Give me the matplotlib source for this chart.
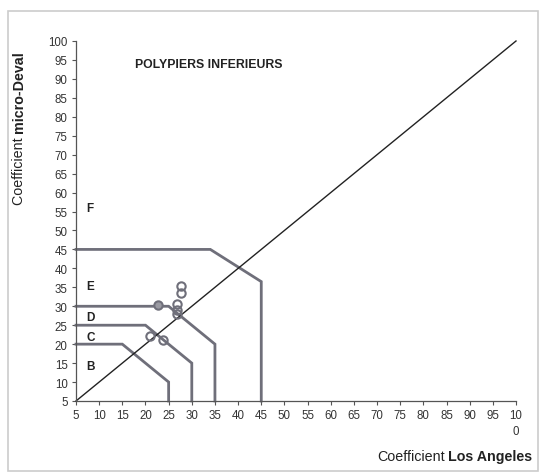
import matplotlib
matplotlib.use('Agg')
import matplotlib.pyplot as plt
from matplotlib.patches import Rectangle

plt.rcParams['font.family'] = ['Liberation Sans', 'DejaVu Sans']

# limites des classes (Los Angeles, micro-Deval)
lim_BC_x = [5, 15, 25, 25]
lim_BC_y = [20, 20, 10, 5]
lim_CD_x = [5, 20, 30, 30]
lim_CD_y = [25, 25, 15, 5]
lim_DE_x = [5, 25, 35, 35]
lim_DE_y = [30, 30, 20, 5]
lim_EF_x = [5, 34, 45, 45]
lim_EF_y = [45, 45, 36.5, 5]

# echantillons
la_vals = [21, 23.7, 22.8, 26.7, 26.7, 26.7, 27.6, 27.6]
md_vals = [22.2, 21.1, 30.3, 30.5, 29.0, 28.0, 33.6, 35.3]
pleins = [False, False, True, False, False, False, False, False]

classes = ['B', 'C', 'D', 'E', 'F']
classes_y = [14.2, 21.9, 27.2, 35.3, 55.9]

ticks = list(range(5, 101, 5))
xlabels = [str(t) for t in ticks[:-1]] + ['10\n0']

fig = plt.figure(figsize=(5.45, 4.77), dpi=100)
fig.patches.append(Rectangle((8/545, 1-472/477), 530/545, 460/477, transform=fig.transFigure,
                             fill=False, edgecolor='#cccccc', linewidth=1.2))
ax = fig.add_axes([76/545, 1-402/477, 440/545, 360/477])

gris = '#6f6f7a'
for xs, ys in [(lim_BC_x, lim_BC_y), (lim_CD_x, lim_CD_y), (lim_DE_x, lim_DE_y), (lim_EF_x, lim_EF_y)]:
    ax.plot(xs, ys, color=gris, lw=2, solid_joinstyle='miter', clip_on=False)

ax.plot([5, 100], [5, 100], color='#222222', lw=1, clip_on=False)

for x, y, p in zip(la_vals, md_vals, pleins):
    ax.plot(x, y, 'o', ms=6, mfc='#9a9aa2' if p else 'none', mec='#6f6f7a', mew=1.5)

for c, y in zip(classes, classes_y):
    ax.text(7.3, y, c, fontsize=8.5, fontweight='bold', va='center', ha='left', color='#222222')

ax.text(0.135, 0.936, 'POLYPIERS INFERIEURS', transform=ax.transAxes, fontsize=8.8,
        fontweight='bold', color='#222222', va='center')

ax.set_xlim(5, 100)
ax.set_ylim(5, 100)
ax.set_xticks(ticks)
ax.set_xticklabels(xlabels, fontsize=8.3, color='#333333', linespacing=1.4, va='top')
ax.set_yticks(ticks)
ax.set_yticklabels([str(t) for t in ticks], fontsize=8.3, color='#333333')
ax.tick_params(direction='out', length=3, width=0.8, color='#555555', pad=3)
for s in ['top', 'right']:
    ax.spines[s].set_visible(False)
for s in ['left', 'bottom']:
    ax.spines[s].set_color('#555555')
    ax.spines[s].set_linewidth(0.9)

# titres des axes : partie normale + partie en gras
fig.canvas.draw()
r = fig.canvas.get_renderer()
t1 = fig.text(532/545, 1-457/477, 'Los Angeles', fontsize=10.3, fontweight='bold',
              ha='right', va='center', color='#222222')
bb = t1.get_window_extent(r)
fig.text(bb.x0 / fig.bbox.width - 0.005, 1-457/477, 'Coefficient', fontsize=10.3,
         ha='right', va='center', color='#222222')

t2 = fig.text(19/545, 1-205/477, 'Coefficient ', fontsize=10.3, rotation=90,
              ha='center', va='bottom', color='#222222')
bb2 = t2.get_window_extent(r)
fig.text(19/545, bb2.y1 / fig.bbox.height, 'micro-Deval', fontsize=10.3, fontweight='bold',
         rotation=90, ha='center', va='bottom', color='#222222')

fig.savefig('out.png', dpi=100)
